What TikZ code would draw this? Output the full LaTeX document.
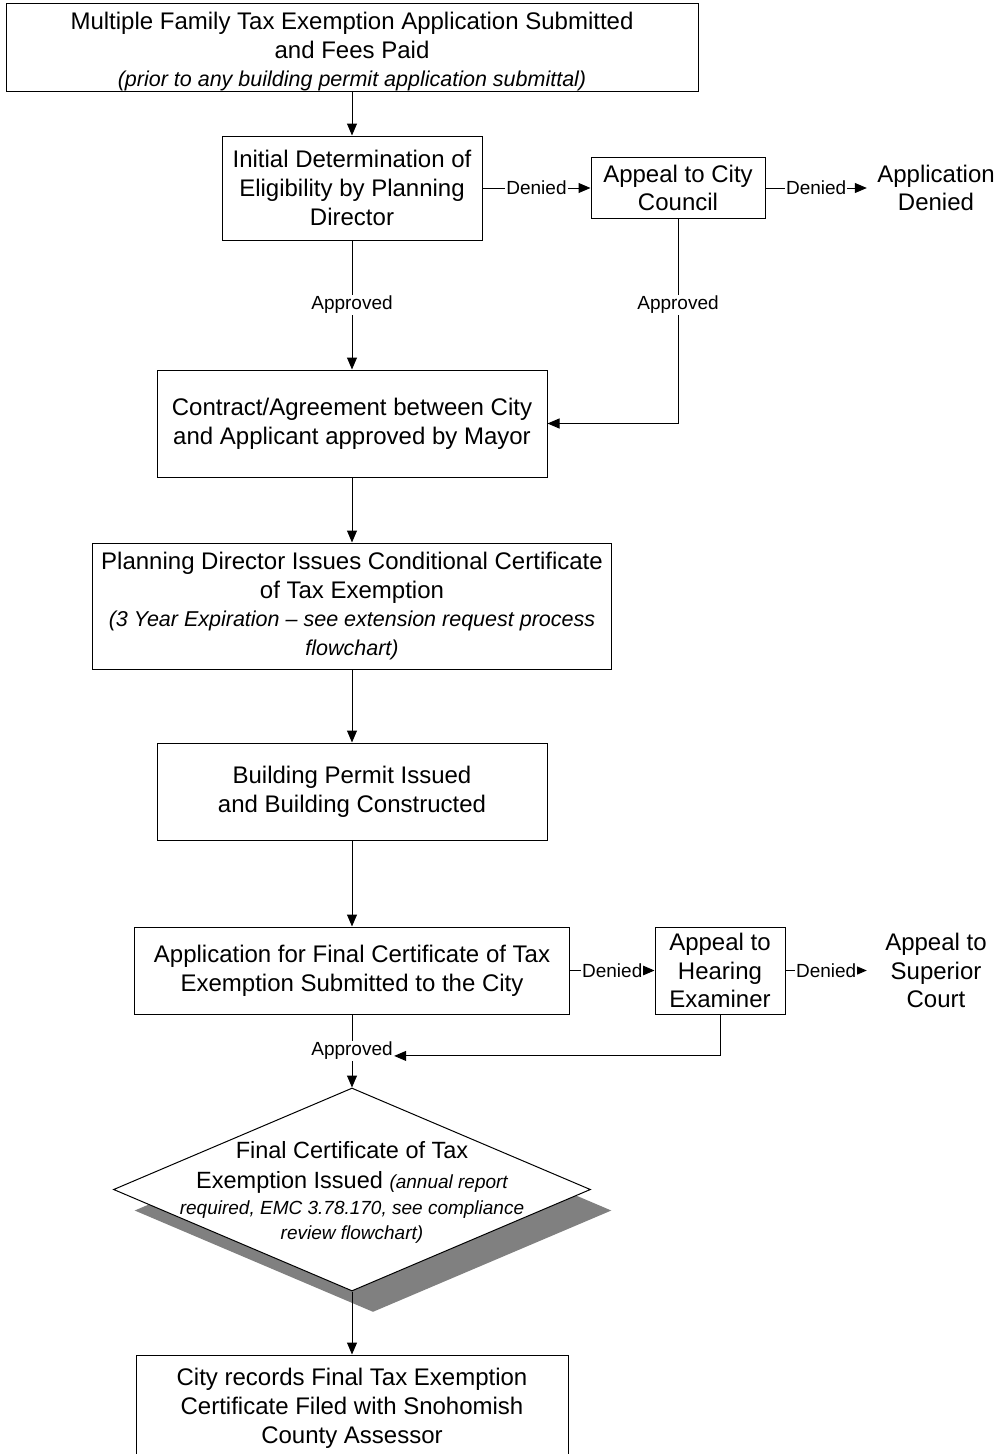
\documentclass[tikz,border=0pt]{standalone}
\usepackage{fontspec}
\setmainfont{Liberation Sans}
\usepackage{tikz}
\usetikzlibrary{shapes.geometric, arrows.meta, shadows}

\definecolor{shadowgray}{HTML}{808080}
\newcommand{\mainsz}{\fontsize{24}{28.8}\selectfont}
\newcommand{\notesz}{\fontsize{21.5}{28.8}\selectfont\itshape}
\newcommand{\dmdsz}{\fontsize{23.5}{29}\selectfont}
\newcommand{\dmdnote}{\fontsize{19}{25}\selectfont\itshape}
\newcommand{\lblsz}{\fontsize{19}{22}\selectfont}
% text of no size, moved by #1
\newcommand{\lowtext}[2]{\makebox[0pt]{\raisebox{#1}{\begin{tabular}{@{}c@{}}#2\end{tabular}}}}

\begin{document}
\begin{tikzpicture}[
  x=1pt, y=-1pt, line width=1pt,
  >={Triangle[length=12pt, width=10pt]},
  box/.style={rectangle, draw, inner sep=0pt, align=center, font=\mainsz},
  decision/.style={diamond, draw, fill=white, inner sep=0pt, text height=0pt, text depth=0pt, font=\dmdsz,
    drop shadow={shadow xshift=21pt, shadow yshift=-21pt, fill=shadowgray, opacity=1}},
  endtext/.style={align=center, inner xsep=10pt, font=\mainsz},
  lbl/.style={fill=white, inner sep=1pt, font=\lblsz}
]
  \clip (0,0) rectangle (996,1454);

  \node[box, minimum width=692pt, minimum height=88pt, text height=0pt, text depth=0pt] (submit) at (352,47)
    {\lowtext{-11.5pt}{Multiple Family Tax Exemption Application Submitted\\ and Fees Paid\\
     {\notesz (prior to any building permit application submittal)}}};
  \node[box, minimum width=260pt, minimum height=104pt] (initial) at (352,188)
    {Initial Determination of\\ Eligibility by Planning\\ Director};
  \node[box, minimum width=174pt, minimum height=61pt] (council) at (678,188)
    {Appeal to City\\ Council};
  \node[endtext] (appdenied) at (936,188) {Application\\ Denied};
  \node[box, minimum width=390pt, minimum height=107pt] (contract) at (352,423.5)
    {Contract/Agreement between City\\ and Applicant approved by Mayor};
  \node[box, minimum width=519pt, minimum height=126pt] (conditional) at (352,606)
    {Planning Director Issues Conditional Certificate\\ of Tax Exemption\\
     {\notesz (3 Year Expiration -- see extension request process}\\ {\notesz flowchart)}};
  \node[box, minimum width=390pt, minimum height=97pt] (permit) at (352,791.5)
    {Building Permit Issued\\ and Building Constructed};
  \node[box, minimum width=435pt, minimum height=87pt] (finalapp) at (352,970.5)
    {Application for Final Certificate of Tax\\ Exemption Submitted to the City};
  \node[box, minimum width=130pt, minimum height=87pt] (hearing) at (720,970.5)
    {Appeal to\\ Hearing\\ Examiner};
  \node[endtext, inner xsep=18pt] (superior) at (936,970.5) {Appeal to\\ Superior\\ Court};
  \node[decision, minimum width=477pt, minimum height=203pt] (issued) at (352,1189.5)
    {\lowtext{-10pt}{Final Certificate of Tax\\[1pt] Exemption Issued {\dmdnote (annual report}\\[-3pt]
     {\dmdnote required, EMC 3.78.170, see compliance}\\[-4pt] {\dmdnote review flowchart)}}};
  \node[box, minimum width=432pt, minimum height=106pt] (records) at (352,1408)
    {City records Final Tax Exemption\\ Certificate Filed with Snohomish\\ County Assessor};

  \draw[->] (submit) -- (initial);
  \draw[->] (initial) -- node[lbl] {Denied} (council);
  \draw[->] (council) -- node[lbl] {Denied} (appdenied);
  \draw[->] (initial) -- node[lbl, pos=0.5] {Approved} (contract);
  \draw[->] (council) |- node[lbl, pos=0.21] {Approved} (contract);
  \draw[->] (contract) -- (conditional);
  \draw[->] (conditional) -- (permit);
  \draw[->] (permit) -- (finalapp);
  \draw[->] (finalapp) -- node[lbl] {Denied} (hearing);
  \draw[->] (hearing) -- node[lbl] {Denied} (superior);
  \draw[->] (finalapp) -- node[lbl] (approved) {Approved} (issued);
  \draw[->] (hearing) |- (approved.base east);
  \draw[->] (issued) -- (records);
\end{tikzpicture}
\end{document}
